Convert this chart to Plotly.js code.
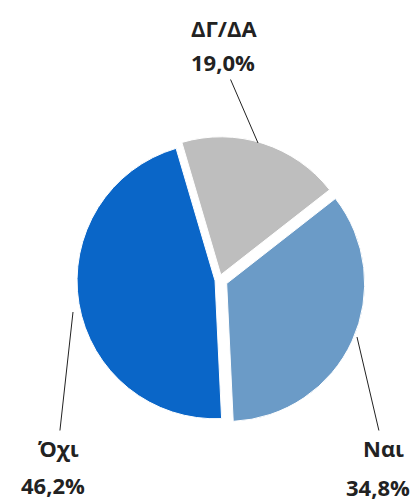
<!DOCTYPE html>
<html>
<head>
<meta charset="utf-8">
<script src="https://cdn.plot.ly/plotly-3.0.1.min.js"></script>
<style>html,body{margin:0;padding:0;background:#fff;}#chart{width:419px;height:501px;}</style>
</head>
<body>
<div id="chart"></div>
<script>
const labels = ["Ναι", "Όχι", "ΔΓ/ΔΑ"];
const values = [34.8, 46.2, 19.0];
const colors = ["#6b9bc7", "#0a66c8", "#bebebe"];
const pulls = [0.06, 0.03, 0.04];

// label layout: name centre, percent centre, leader tip (pixels), which line carries the leader
const namePos = [[383, 448], [58, 448], [224, 28]];
const pctPos = [[378, 487], [53, 485], [223, 62]];
const tipPos = [[357, 337], [73, 312], [258, 143]];
const leaderOnName = [true, true, false];

const W = 419, H = 501;
const fmt = v => v.toFixed(1).replace('.', ',') + '%';
const font = {family: 'Open Sans, sans-serif', size: 22, color: '#222'};
const px = x => x / W, py = y => 1 - y / H;

const annotations = [];
labels.forEach((l, i) => {
  const items = [['<b>' + l + '</b>', namePos[i], leaderOnName[i]],
                 ['<b>' + fmt(values[i]) + '</b>', pctPos[i], !leaderOnName[i]]];
  items.forEach(([txt, p, lead]) => {
    if (lead) {
      const t = tipPos[i];
      annotations.push({text: txt, xref: 'paper', yref: 'paper', x: px(t[0]), y: py(t[1]),
        ax: p[0] - t[0], ay: p[1] - t[1], showarrow: true, arrowhead: 0, arrowwidth: 1,
        arrowcolor: '#222', font: font, borderpad: 2});
    } else {
      annotations.push({text: txt, xref: 'paper', yref: 'paper', x: px(p[0]), y: py(p[1]),
        xanchor: 'center', yanchor: 'middle', showarrow: false, font: font});
    }
  });
});

const data = [{
  type: 'pie',
  labels: labels,
  values: values,
  sort: false,
  direction: 'clockwise',
  rotation: 52,
  pull: pulls,
  marker: {colors: colors, line: {color: '#fff', width: 1}},
  textinfo: 'none',
  hoverinfo: 'label+percent',
  domain: {x: [0.172, 0.874], y: [0.149, 0.733]}
}];

const layout = {
  width: W, height: H,
  margin: {l: 0, r: 0, t: 0, b: 0},
  showlegend: false,
  paper_bgcolor: '#fff',
  annotations: annotations
};

Plotly.newPlot('chart', data, layout, {displayModeBar: false, staticPlot: true});
</script>
</body>
</html>
